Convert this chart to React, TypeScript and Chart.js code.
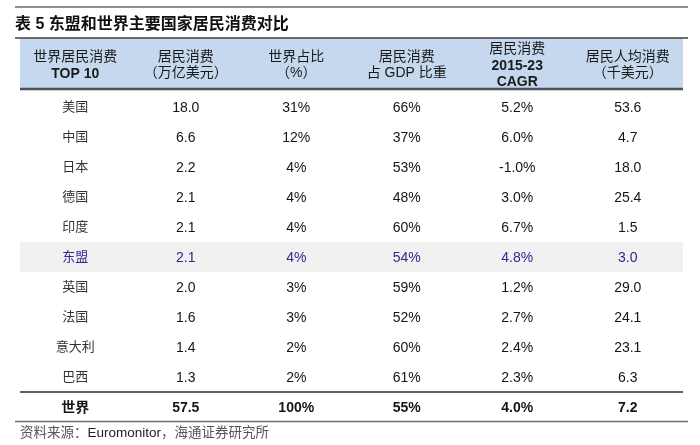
import React, { useEffect, useRef } from "react";
import { Chart, registerables } from "chart.js";

Chart.register(...registerables);

const TITLE = "表 5 东盟和世界主要国家居民消费对比";
const SOURCE_PARTS: [string, string][] = [
  ["资料来源：", "#555"],
  ["Euromonitor", "#222"],
  ["，海通证券研究所", "#555"],
];

const headers: string[][] = [
  ["世界居民消费", "TOP 10"],
  ["居民消费", "（万亿美元）"],
  ["世界占比", "（%）"],
  ["居民消费", "占 GDP 比重"],
  ["居民消费", "2015-23", "CAGR"],
  ["居民人均消费", "（千美元）"],
];
const boldHeaderLines = ["TOP 10", "2015-23", "CAGR"];

const countries = ["美国", "中国", "日本", "德国", "印度", "东盟", "英国", "法国", "意大利", "巴西", "世界"];
const consumption = [18.0, 6.6, 2.2, 2.1, 2.1, 2.1, 2.0, 1.6, 1.4, 1.3, 57.5];
const worldShare = [31, 12, 4, 4, 4, 4, 3, 3, 2, 2, 100];
const gdpShare = [66, 37, 53, 48, 60, 54, 59, 52, 60, 61, 55];
const cagr = [5.2, 6.0, -1.0, 3.0, 6.7, 4.8, 1.2, 2.7, 2.4, 2.3, 4.0];
const perCapita = [53.6, 4.7, 18.0, 25.4, 1.5, 3.0, 29.0, 24.1, 23.1, 6.3, 7.2];

const HIGHLIGHT = "东盟";
const TOTAL = "世界";

const FONT = '"Liberation Sans", Arial, "Noto Sans CJK SC", sans-serif';
const CJK = '"Noto Sans CJK SC", "Liberation Sans", sans-serif';

const HEADER_END = 1.7; // header band in row units
const FIRST_ROW = 2.3;
const Y_MAX = 12.8;

const columnTexts: string[][] = [
  countries,
  consumption.map((v) => v.toFixed(1)),
  worldShare.map((v) => `${v}%`),
  gdpShare.map((v) => `${v}%`),
  cagr.map((v) => `${v.toFixed(1)}%`),
  perCapita.map((v) => v.toFixed(1)),
];

const tablePlugin = {
  id: "tablePlugin",
  beforeDatasetsDraw(chart: any) {
    const { ctx, scales } = chart;
    const xs = scales.x;
    const ys = scales.y;
    const left = xs.getPixelForValue(0);
    const right = xs.getPixelForValue(6);
    ctx.save();
    // header background
    const hTop = ys.getPixelForValue(0);
    const hBot = ys.getPixelForValue(HEADER_END);
    ctx.fillStyle = "#c6d8ee";
    ctx.fillRect(left, hTop, right - left, hBot - hTop);
    // highlight row
    const hi = countries.indexOf(HIGHLIGHT);
    const rTop = ys.getPixelForValue(FIRST_ROW + hi - 0.5);
    const rBot = ys.getPixelForValue(FIRST_ROW + hi + 0.5);
    ctx.fillStyle = "#f1f1f1";
    ctx.fillRect(left, rTop, right - left, rBot - rTop);

    const line = (yv: number, x0: number, x1: number, color: string, w: number) => {
      ctx.beginPath();
      ctx.strokeStyle = color;
      ctx.lineWidth = w;
      ctx.moveTo(x0, yv);
      ctx.lineTo(x1, yv);
      ctx.stroke();
    };
    line(7, left - 5, right + 5, "#6b6b6b", 1.5);
    line(hTop, left - 5, right + 5, "#3f3f3f", 1.5);
    line(hBot, left, right, "#4a525c", 2.5);
    const tot = countries.indexOf(TOTAL);
    line(ys.getPixelForValue(FIRST_ROW + tot - 0.5), left, right, "#2e2e2e", 1.5);
    line(ys.getPixelForValue(Y_MAX) - 0.5, left - 5, right + 5, "#6b6b6b", 1.5);

    // header text
    const hMid = ys.getPixelForValue(HEADER_END / 2) + 1.5;
    ctx.textAlign = "center";
    ctx.textBaseline = "middle";
    headers.forEach((lines, c) => {
      const cx = xs.getPixelForValue(c + 0.5);
      const lh = 16;
      const start = hMid - ((lines.length - 1) * lh) / 2;
      lines.forEach((t, i) => {
        const bold = boldHeaderLines.includes(t);
        ctx.font = `${bold ? "bold " : ""}14px ${FONT}`;
        ctx.fillStyle = "#1a1a1a";
        ctx.fillText(t, cx, start + i * lh + (bold ? 1 : 0));
      });
    });
    ctx.restore();
  },
  afterDatasetsDraw(chart: any) {
    const { ctx } = chart;
    ctx.save();
    ctx.textAlign = "center";
    ctx.textBaseline = "middle";
    chart.data.datasets.forEach((ds: any, di: number) => {
      const meta = chart.getDatasetMeta(di);
      meta.data.forEach((el: any, r: number) => {
        const name = countries[r];
        const isTotal = name === TOTAL;
        const isHi = name === HIGHLIGHT;
        const txt = ds.texts[r];
        let dy = 1;
        if (di === 0) {
          ctx.font = `${isTotal ? "bold 14px" : "13px"} ${CJK}`;
          dy = -0.5;
        } else {
          ctx.font = `${isTotal ? "bold " : ""}14px ${FONT}`;
        }
        ctx.fillStyle = isHi ? "#2b2b8c" : di === 0 && !isTotal ? "#333" : "#151515";
        ctx.fillText(txt, el.x, el.y + dy);
      });
    });
    ctx.restore();
  },
  afterDraw(chart: any) {
    const { ctx } = chart;
    ctx.save();
    ctx.textBaseline = "middle";
    ctx.textAlign = "left";
    ctx.fillStyle = "#111";
    ctx.font = `bold 16px ${FONT}`;
    ctx.fillText(TITLE, 15, 24.5);
    let x = 20;
    SOURCE_PARTS.forEach(([t, c]) => {
      ctx.font = `13.5px ${FONT}`;
      ctx.fillStyle = c;
      ctx.fillText(t, x, 433);
      x += ctx.measureText(t).width;
    });
    ctx.restore();
  },
};

export default function App() {
  const ref = useRef<HTMLCanvasElement | null>(null);
  useEffect(() => {
    if (!ref.current) return;
    const datasets = columnTexts.map((texts, c) => ({
      label: headers[c].join(" "),
      texts,
      data: texts.map((_, r) => ({ x: c + 0.5, y: FIRST_ROW + r })),
      pointRadius: 0,
      pointHoverRadius: 0,
      showLine: false,
    }));
    const chart = new Chart(ref.current, {
      type: "scatter",
      data: { datasets: datasets as any },
      options: {
        responsive: false,
        animation: false,
        events: [],
        layout: { padding: { left: 20, right: 17, top: 38, bottom: 23 } },
        plugins: { legend: { display: false }, tooltip: { enabled: false }, title: { display: false } },
        scales: {
          x: { type: "linear", min: 0, max: 6, display: false },
          y: { type: "linear", min: 0, max: Y_MAX, reverse: true, display: false },
        },
      },
      plugins: [tablePlugin],
    });
    return () => chart.destroy();
  }, []);
  return (
    <div style={{ position: "fixed", left: 0, top: 0, width: 700, height: 445, background: "#fff" }}>
      <canvas ref={ref} width={700} height={445} style={{ width: 700, height: 445 }} />
    </div>
  );
}
